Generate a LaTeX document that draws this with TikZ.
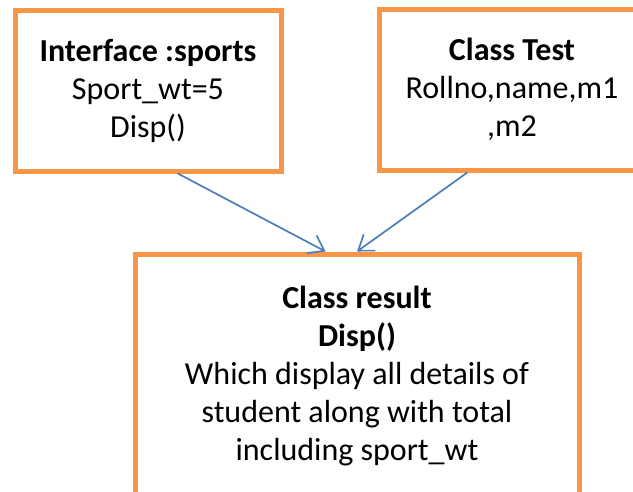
\documentclass[tikz,border=0pt]{standalone}
\usepackage{fontspec}
\setmainfont{Carlito}
\usetikzlibrary{arrows.meta,calc}
\definecolor{boxorange}{HTML}{F79646}
\definecolor{arrowblue}{HTML}{4A7EBB}

\begin{document}
\begin{tikzpicture}[x=1pt, y=-1pt,
		classbox/.style={draw=boxorange, line width=5pt, align=center, inner sep=0pt,
			font=\fontsize{32}{38}\selectfont},
		link/.style={arrowblue, line width=1.7pt, -{Straight Barb[length=14pt, width=20pt]}}]
		\clip (0, 0) rectangle (633, 491);
		
		% the two boxes on top
		\node[classbox, minimum width=266pt, minimum height=161pt] (sports) at (148, 90.5)
			{\textbf{Interface :sports}\\Sport\_wt=5\\Disp()};
		\node[classbox, minimum width=266pt, minimum height=161pt] (test) at (512, 89.5)
			{\textbf{Class Test}\\Rollno,name,m1\\,m2};
		
		% the box below runs past the lower edge
		\node[classbox, minimum width=444pt, minimum height=244pt] (result) at (357, 376)
			{\textbf{Class result}\\\textbf{Disp()}\\Which display all details of\\student along with total\\including sport\_wt};
		
		% arrows into the result box
		\draw[link] ($(sports.south west)!0.61!(sports.south east)$) -- ($(result.north west)!0.43!(result.north east)$);
		\draw[link] ($(test.south west)!0.335!(test.south east)$) -- ($(result.north west)!0.5!(result.north east)$);
	\end{tikzpicture}
\end{document}
